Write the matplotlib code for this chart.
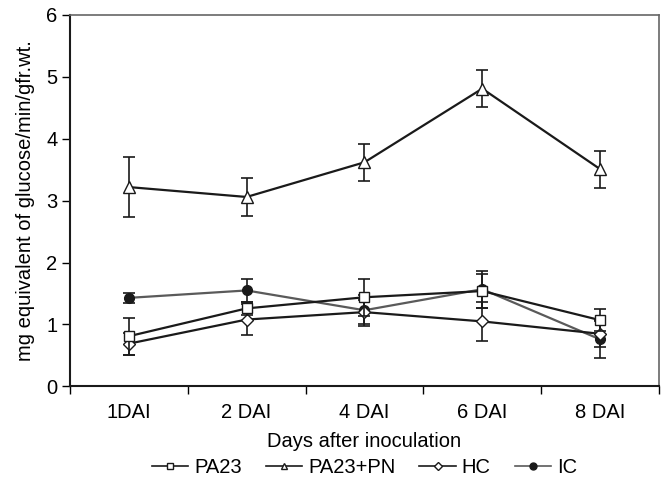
import matplotlib
matplotlib.use("Agg")
import matplotlib.pyplot as plt
from matplotlib.lines import Line2D

plt.rcParams['font.family'] = ['Liberation Sans', 'DejaVu Sans']

categories = ["1DAI", "2 DAI", "4 DAI", "6 DAI", "8 DAI"]
pa23 = [0.81, 1.26, 1.44, 1.54, 1.07]
pa23_err = [0.30, 0.10, 0.30, 0.28, 0.18]
pa23pn = [3.22, 3.06, 3.62, 4.81, 3.51]
pa23pn_err = [0.49, 0.30, 0.30, 0.30, 0.30]
hc = [0.69, 1.08, 1.20, 1.05, 0.85]
hc_err = [0.18, 0.25, 0.20, 0.31, 0.22]
ic = [1.43, 1.55, 1.23, 1.57, 0.76]
ic_err = [0.08, 0.18, 0.25, 0.30, 0.30]

FS = 14.5

fig = plt.figure(figsize=(6.65, 4.83), dpi=100)
ax = fig.add_axes([0.105, 0.2, 0.886, 0.769])

x = list(range(len(categories)))
dark = "#1a1a1a"
gray = "#5a5a5a"

common = dict(capsize=4, elinewidth=1.2, capthick=1.2, linewidth=1.6)
ax.errorbar(x, ic, yerr=ic_err, color=gray, ecolor=dark, marker='o', markersize=7,
            markerfacecolor=dark, markeredgecolor=dark, zorder=3, **common)
ax.errorbar(x, hc, yerr=hc_err, color=dark, ecolor=dark, marker='D', markersize=6,
            markerfacecolor='white', markeredgecolor=dark, zorder=4, **common)
ax.errorbar(x, pa23, yerr=pa23_err, color=dark, ecolor=dark, marker='s', markersize=7,
            markerfacecolor='white', markeredgecolor=dark, zorder=5, **common)
ax.errorbar(x, pa23pn, yerr=pa23pn_err, color=dark, ecolor=dark, marker='^', markersize=8,
            markerfacecolor='white', markeredgecolor=dark, zorder=5, **common)

ax.set_xlim(-0.5, len(categories) - 0.5)
ax.set_ylim(0, 6)
ax.set_yticks(range(0, 7))
ax.set_xticks(x)
ax.set_xticklabels(categories)
ax.set_xticks([i + 0.5 for i in range(-1, len(categories))], minor=True)
ax.tick_params(axis='x', which='major', length=0, pad=12, labelsize=FS)
ax.tick_params(axis='x', which='minor', length=6, direction='out', width=1)
ax.tick_params(axis='y', length=6, direction='out', width=1, labelsize=FS, pad=3)

for s in ['left', 'bottom']:
    ax.spines[s].set_color(dark)
    ax.spines[s].set_linewidth(1.5)
for s in ['top', 'right']:
    ax.spines[s].set_color('#666666')
    ax.spines[s].set_linewidth(1.2)

ax.set_xlabel("Days after inoculation", fontsize=FS, labelpad=7)
ax.set_ylabel("mg equivalent of glucose/min/gfr.wt.", fontsize=FS, labelpad=8)

handles = [
    Line2D([], [], color=dark, marker='s', markerfacecolor='white', markersize=5, lw=1.2),
    Line2D([], [], color=dark, marker='^', markerfacecolor='white', markersize=5, lw=1.2),
    Line2D([], [], color=dark, marker='D', markerfacecolor='white', markersize=4.5, lw=1.2),
    Line2D([], [], color=gray, marker='o', markerfacecolor=dark, markeredgecolor=dark, markersize=5, lw=1.2),
]
fig.legend(handles, ["PA23", "PA23+PN", "HC", "IC"], loc='center', bbox_to_anchor=(0.548, 0.033),
           ncol=4, frameon=False, fontsize=FS, handlelength=1.8, handletextpad=0.3, columnspacing=1.2)

fig.savefig("out.png", dpi=100)
